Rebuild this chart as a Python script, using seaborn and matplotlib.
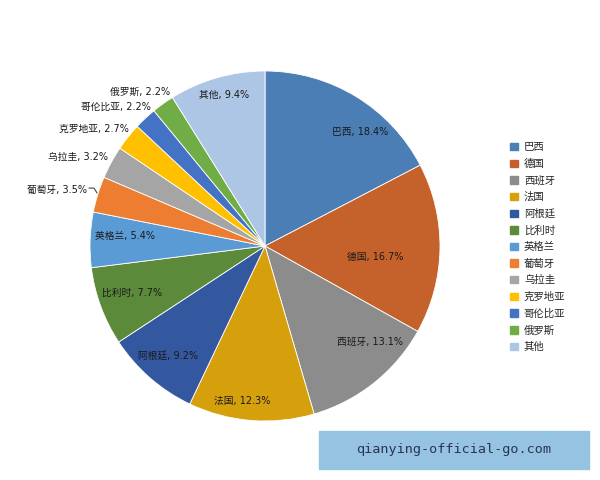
import matplotlib
matplotlib.use("Agg")
import matplotlib.pyplot as plt
import seaborn as sns

# chart values
countries = ["巴西", "德国", "西班牙", "法国", "阿根廷", "比利时", "英格兰",
             "葡萄牙", "乌拉圭", "克罗地亚", "哥伦比亚", "俄罗斯", "其他"]
shares = [18.4, 16.7, 13.1, 12.3, 9.2, 7.7, 5.4, 3.5, 3.2, 2.7, 2.2, 2.2, 9.4]
share_labels = ["18.4%", "16.7%", "13.1%", "12.3%", "9.2%", "7.7%", "5.4%",
                "3.5%", "3.2%", "2.7%", "2.2%", "2.2%", "9.4%"]

hex_colors = ["#4A7EB5", "#C5612B", "#8C8C8C", "#D6A00C", "#3458A0", "#5B8A3A",
              "#5B9BD5", "#ED7D31", "#A5A5A5", "#FFC000", "#4472C4", "#70AD47",
              "#AEC6E6"]

# label anchor points in pie units (layout only): (x, y, ha)
label_pos = [(0.545, 0.65, "center"), (0.63, -0.06, "center"), (0.60, -0.55, "center"),
             (-0.13, -0.885, "center"), (-0.555, -0.63, "center"), (-0.76, -0.265, "center"),
             (-0.80, 0.06, "center"), (-1.017, 0.32, "right"), (-0.90, 0.51, "right"),
             (-0.78, 0.67, "right"), (-0.65, 0.795, "right"), (-0.54, 0.88, "right"),
             (-0.235, 0.865, "center")]

sns.set_style("white")
plt.rcParams["font.family"] = ["Noto Sans CJK SC", "DejaVu Sans"]
palette = sns.color_palette(hex_colors)

fig = plt.figure(figsize=(6, 4.8), dpi=100)
ax = fig.add_axes([265/600 - 175/600, 1 - 246/480 - 175/480, 350/600, 350/480])

wedges, _ = ax.pie(shares, colors=palette, startangle=90, counterclock=False,
                   radius=1.0, wedgeprops=dict(edgecolor="white", linewidth=0.6))
ax.set_xlim(-1, 1)
ax.set_ylim(-1, 1)
ax.set_aspect("equal")
ax.axis("off")

lab_font = ["DejaVu Sans", "Noto Sans CJK SC"]
for i, (lx, ly, ha) in enumerate(label_pos):
    txt = f"{countries[i]}, {share_labels[i]}"
    ax.text(lx, ly, txt, ha=ha, va="center", fontsize=7, family=lab_font,
            color="#1a1a1a")

# leader line for 葡萄牙
ax.plot([-1.006, -0.977, -0.96], [0.331, 0.331, 0.303], color="#444444", lw=0.8,
        clip_on=False)

handles = [plt.Rectangle((0, 0), 1, 1, color=c) for c in palette]
fig.legend(handles, countries, loc="upper left", bbox_to_anchor=(501/600, 1 - 133/480),
           frameon=False, fontsize=7.5, handlelength=0.7, handleheight=0.7,
           handletextpad=0.6, labelspacing=0.62)

# watermark box
fig.patches.append(plt.Rectangle((319/600, 1 - 469/480), 270/600, 38/480,
                                 transform=fig.transFigure, color="#97C3E3", zorder=0))
fig.text(454/600, 1 - 450/480, "qianying-official-go.com", ha="center", va="center",
         fontsize=9.7, family="DejaVu Sans Mono", color="#2a3550")

fig.savefig("out.png", dpi=100)
